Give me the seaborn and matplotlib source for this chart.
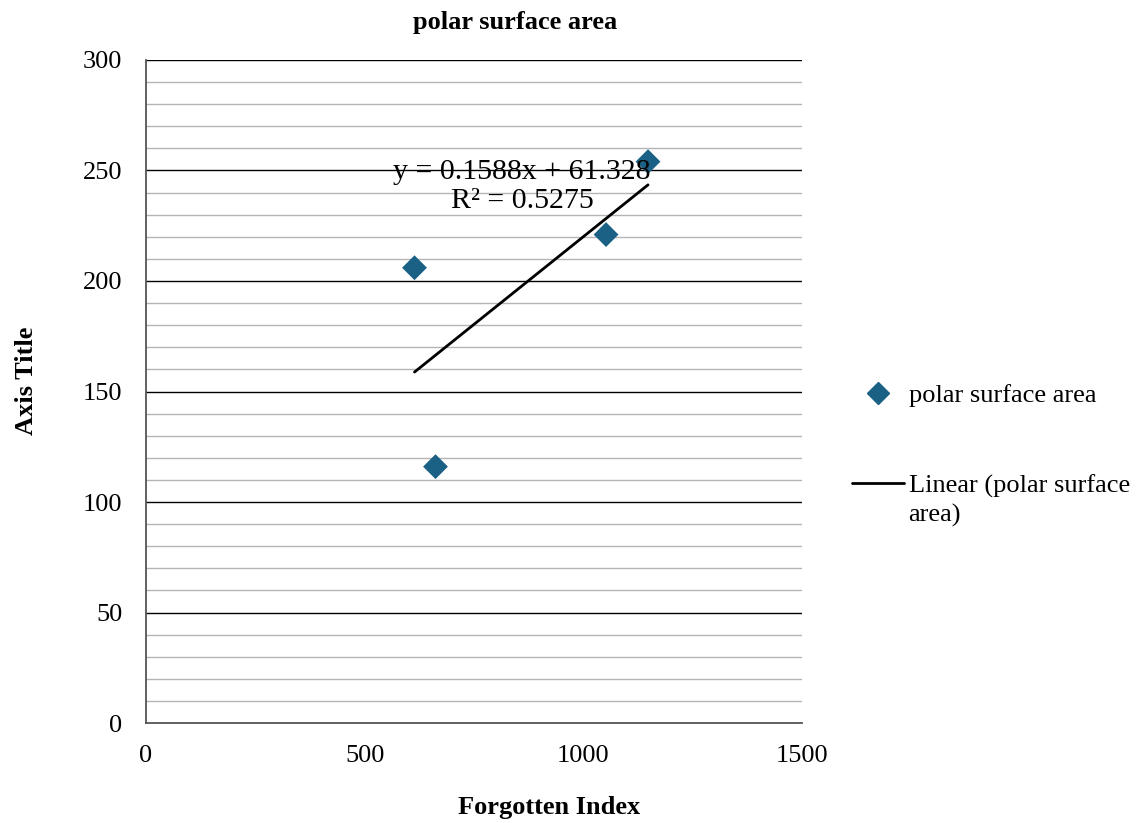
import numpy as np
import pandas as pd
import matplotlib
matplotlib.use("Agg")
import matplotlib.pyplot as plt
import seaborn as sns
from matplotlib.lines import Line2D

forgotten_index = [614, 662, 1052, 1148]
polar_surface_area = [206, 116, 221, 254]
equation_text = "y = 0.1588x + 61.328\nR² = 0.5275"
x_ticks = [0, 500, 1000, 1500]
y_ticks = [0, 50, 100, 150, 200, 250, 300]

sns.set_theme(style="white")
plt.rcParams['font.family'] = ['Liberation Serif', 'DejaVu Serif']
plt.rcParams['text.color'] = 'black'
plt.rcParams['axes.labelcolor'] = 'black'

df = pd.DataFrame({"x": forgotten_index, "y": polar_surface_area})
fig = plt.figure(figsize=(11.38, 8.23), dpi=100)
ax = fig.add_axes([0.1283, 0.1215, 0.5764, 0.8056])

ax.set_xlim(0, 1500)
ax.set_ylim(0, 300)

# gridlines
for v in np.arange(10, 300, 10):
    if v % 50 == 0:
        ax.axhline(v, color="black", lw=1.0, zorder=1)
    else:
        ax.axhline(v, color="#b5b5b5", lw=1.0, zorder=1)
ax.axhline(300, color="black", lw=1.0, zorder=1)

sns.scatterplot(data=df, x="x", y="y", marker="D", s=160, color="#1a6185",
                edgecolor="none", ax=ax, zorder=4, legend=False)

# linear trend
coef = np.polyfit(df["x"], df["y"], 1)
xs = np.array([min(forgotten_index), max(forgotten_index)])
sns.lineplot(x=xs, y=np.polyval(coef, xs), color="black", lw=2, ax=ax, zorder=3)

ax.text(860, 242.8, equation_text, ha="center", va="center",
        fontsize=21.5, linespacing=1.12, zorder=5)

ax.set_xticks(x_ticks)
ax.set_yticks(y_ticks)
ax.tick_params(axis="x", direction="in", length=6, color="#555555", labelsize=19, pad=16)
ax.tick_params(axis="y", direction="out", length=8, color="#555555", labelsize=19, pad=9)
ax.tick_params(axis="both", labelcolor="black")
for s in ["top", "right"]:
    ax.spines[s].set_visible(False)
for s in ["left", "bottom"]:
    ax.spines[s].set_color("#555555")
    ax.spines[s].set_linewidth(1.3)

ax.set_xlabel("Forgotten Index", fontsize=19, fontweight="bold")
ax.xaxis.set_label_coords(0.614, -0.11)
ax.set_ylabel("Axis Title", fontsize=19, fontweight="bold")
ax.yaxis.set_label_coords(-0.165, 0.516)
ax.set_title("polar surface area", fontsize=19, fontweight="bold", pad=22, x=0.5625)

handles = [
    Line2D([], [], marker="D", color="#1a6185", linestyle="none", markersize=11),
    Line2D([], [], color="black", lw=2),
]
labels = ["polar surface area", "Linear (polar surface"]
fig.legend(handles, labels, loc="upper left", bbox_to_anchor=(0.739, 0.547),
           frameon=False, fontsize=19, labelspacing=2.55, handlelength=1.97,
           handletextpad=0.2, borderaxespad=0)
fig.text(908 / 1138, 1 - 515 / 823, "area)", fontsize=19, ha="left", va="center")

fig.savefig("out.png", dpi=100)
